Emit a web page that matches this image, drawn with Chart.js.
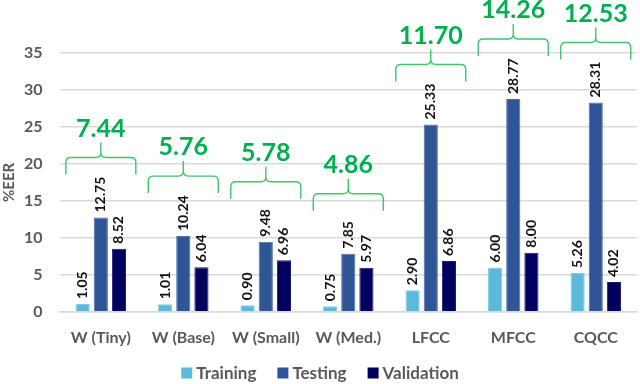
<!DOCTYPE html>
<html><head><meta charset="utf-8">
<script src="https://cdn.jsdelivr.net/npm/chart.js@4/dist/chart.umd.min.js"></script>
<style>html,body{margin:0;padding:0;background:#fff}#wrap{width:640px;height:384px}</style>
</head><body><div id="wrap"><canvas id="c" width="640" height="384"></canvas></div>
<script>
const categories = ['W (Tiny)', 'W (Base)', 'W (Small)', 'W (Med.)', 'LFCC', 'MFCC', 'CQCC'];
const training = [1.05, 1.01, 0.90, 0.75, 2.90, 6.00, 5.26];
const testing = [12.75, 10.24, 9.48, 7.85, 25.33, 28.77, 28.31];
const validation = [8.52, 6.04, 6.96, 5.97, 6.86, 8.00, 4.02];
const averages = ['7.44', '5.76', '5.78', '4.86', '11.70', '14.26', '12.53'];
const yTicks = [0, 5, 10, 15, 20, 25, 30, 35];
const yTitle = '%EER';

const FONT = 'Lato, "Open Sans", sans-serif';

const valueLabels = {
  id: 'valueLabels',
  afterDatasetsDraw(chart) {
    const ctx = chart.ctx;
    ctx.save();
    ctx.font = 'bold 14px ' + FONT;
    ctx.fillStyle = '#111';
    ctx.textAlign = 'left';
    ctx.textBaseline = 'middle';
    chart.data.datasets.forEach((ds, di) => {
      const meta = chart.getDatasetMeta(di);
      meta.data.forEach((bar, i) => {
        ctx.save();
        ctx.translate(bar.x, bar.y - 5);
        ctx.rotate(-Math.PI / 2);
        ctx.fillText(ds.data[i].toFixed(2), 0, 0);
        ctx.restore();
      });
    });
    ctx.restore();
  }
};

const braces = {
  id: 'braces',
  afterDatasetsDraw(chart) {
    const ctx = chart.ctx;
    const metas = chart.data.datasets.map((d, i) => chart.getDatasetMeta(i));
    ctx.save();
    categories.forEach((c, i) => {
      const mid = metas[1].data[i].x;
      const topVal = Math.max(training[i], testing[i], validation[i]);
      const yTop = chart.scales.y.getPixelForValue(topVal) - 60;
      const half = 35, leg = 17, tip = 15, r = 5;
      const L = mid - half, R = mid + half;
      ctx.strokeStyle = '#3dc66a';
      ctx.lineWidth = 1.4;
      ctx.beginPath();
      ctx.moveTo(L, yTop + leg);
      ctx.lineTo(L, yTop + r);
      ctx.quadraticCurveTo(L, yTop, L + r, yTop);
      ctx.lineTo(mid - r, yTop);
      ctx.quadraticCurveTo(mid, yTop, mid, yTop - r);
      ctx.lineTo(mid, yTop - tip);
      ctx.moveTo(mid, yTop - r);
      ctx.quadraticCurveTo(mid, yTop, mid + r, yTop);
      ctx.lineTo(R - r, yTop);
      ctx.quadraticCurveTo(R, yTop, R, yTop + r);
      ctx.lineTo(R, yTop + leg);
      ctx.stroke();
      ctx.fillStyle = '#00b050';
      ctx.font = 'bold 25px ' + FONT;
      ctx.textAlign = 'center';
      ctx.textBaseline = 'middle';
      ctx.fillText(averages[i], mid, yTop - tip - 14);
    });
    ctx.restore();
  }
};

const extras = {
  id: 'extras',
  afterDraw(chart) {
    const ctx = chart.ctx;
    ctx.save();
    // y-axis title
    const ca = chart.chartArea;
    ctx.font = 'bold 15px ' + FONT;
    ctx.fillStyle = '#595959';
    ctx.textAlign = 'center';
    ctx.textBaseline = 'middle';
    ctx.translate(9, (ca.top + ca.bottom) / 2);
    ctx.rotate(-Math.PI / 2);
    ctx.fillText(yTitle, 0, 0);
    ctx.restore();
    // legend
    ctx.save();
    ctx.font = 'bold 17px ' + FONT;
    ctx.textBaseline = 'middle';
    ctx.textAlign = 'left';
    const box = 11, gapBox = 4, gapItem = 21;
    const items = chart.data.datasets.map(d => ({ text: d.label, color: d.backgroundColor, w: ctx.measureText(d.label).width }));
    const total = items.reduce((s, it) => s + box + gapBox + it.w, 0) + gapItem * (items.length - 1);
    let x = 320 - total / 2;
    const y = 374;
    items.forEach(it => {
      ctx.fillStyle = it.color;
      ctx.fillRect(x, y - box / 2 - 1, box, box);
      x += box + gapBox;
      ctx.fillStyle = '#595959';
      ctx.fillText(it.text, x, y);
      x += it.w + gapItem;
    });
    ctx.restore();
  }
};

new Chart(document.getElementById('c'), {
  type: 'bar',
  data: {
    labels: categories,
    datasets: [
      { label: 'Training', data: training, backgroundColor: '#5bb9dc', borderColor: '#7fcbe6', borderWidth: 1 },
      { label: 'Testing', data: testing, backgroundColor: '#2f5597', borderColor: '#4a6fae', borderWidth: 1 },
      { label: 'Validation', data: validation, backgroundColor: '#00005e', borderColor: '#1a1a78', borderWidth: 1 }
    ]
  },
  options: {
    responsive: false,
    animation: false,
    devicePixelRatio: 1,
    layout: { padding: { top: 53, right: 3, left: 7, bottom: 21 } },
    datasets: { bar: { categoryPercentage: 0.66, barPercentage: 0.78 } },
    scales: {
      x: {
        grid: { display: false, drawTicks: false },
        border: { color: '#d9d9d9', width: 1.5 },
        ticks: { color: '#595959', font: { family: FONT, size: 16, weight: 'bold' }, padding: 16, maxRotation: 0 }
      },
      y: {
        min: 0, max: 35,
        afterBuildTicks(axis) { axis.ticks = yTicks.map(v => ({ value: v })); },
        grid: { color: '#d9d9d9', lineWidth: 1.5, drawTicks: false },
        border: { display: false },
        ticks: { color: '#595959', font: { family: FONT, size: 16, weight: 'bold' }, padding: 17 }
      }
    },
    plugins: {
      legend: { display: false },
      tooltip: { enabled: false }
    }
  },
  plugins: [valueLabels, braces, extras]
});
</script></body></html>
